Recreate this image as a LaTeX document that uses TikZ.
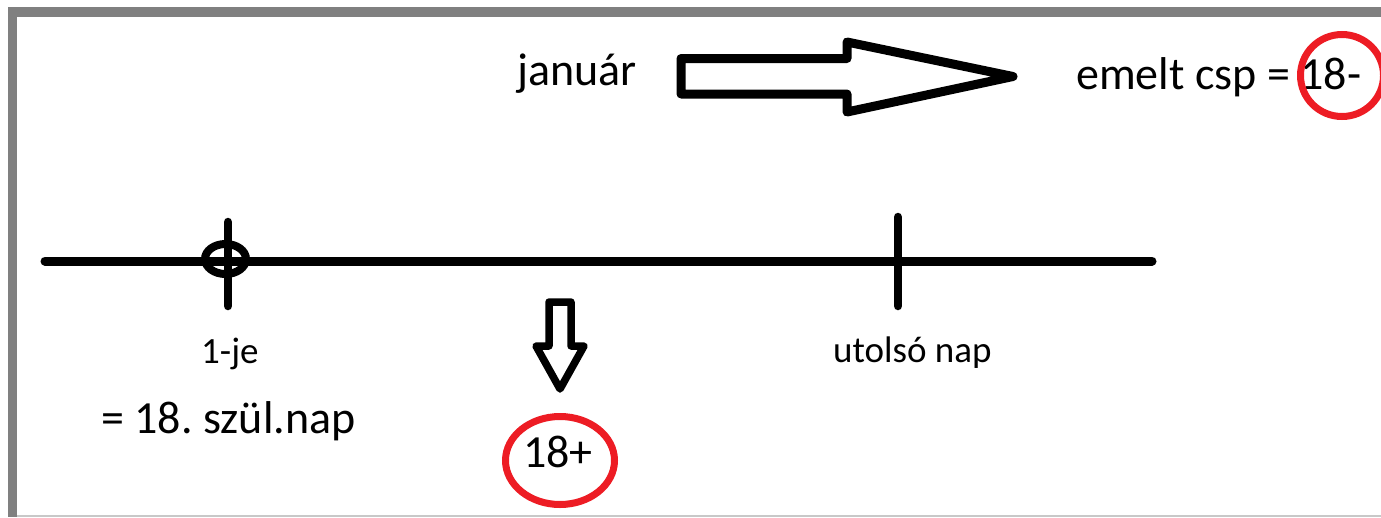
\documentclass[tikz,border=0pt]{standalone}
\usepackage{fontspec}
\setmainfont{Carlito}
\frenchspacing
\tikzset{
  bigtext/.style={inner sep=0pt, anchor=base west, font=\fontsize{46}{50}\selectfont},
  smalltext/.style={inner sep=0pt, anchor=base west, font=\fontsize{37}{40}\selectfont},
  blackline/.style={line width=9pt, line cap=round},
  outlinearrow/.style={draw=black, fill=white, line join=round},
  redring/.style={draw={rgb,255:red,237;green,28;blue,36}, line width=7pt},
  framegray/.style={draw={rgb,255:red,128;green,128;blue,128}, line width=9.5pt},
}
\begin{document}
\begin{tikzpicture}[x=1pt,y=-1pt]
\useasboundingbox (0,0) rectangle (1381,517);
% frame
\draw[draw={rgb,255:red,200;green,200;blue,200}, line width=2pt] (8,515.5) -- (1381,515.5);
\draw[framegray] (8,12) -- (1381,12);
\draw[framegray] (12.5,7.5) -- (12.5,517);

% top row
\node[bigtext] (jan) at (517,85) {január};
\draw[outlinearrow, line width=9pt] (681,58.5) -- (847,58.5) -- (847,42) -- (1013,76.5) -- (847,112) -- (847,94) -- (681,94) -- cycle;
\node[bigtext] (emelt) at (1076,89) {emelt csp = 18-};
\draw[redring] (1342,75.5) ellipse [x radius=41.5, y radius=41];

% number line
\coordinate (L) at (45,261);
\coordinate (R) at (1152,261);
\draw[blackline] (L) -- (R);
\coordinate (t1a) at (228,222);
\coordinate (t1b) at (228,306);
\draw[line width=8.5pt, line cap=round] (t1a) -- (t1b);
\draw[line width=8pt] (225.5,259) ellipse [x radius=20.5, y radius=15];
\coordinate (t2a) at (898,217);
\coordinate (t2b) at (898,306);
\draw[line width=8.5pt, line cap=round] (t2a) -- (t2b);

\node[smalltext] (first) at (201,363) {1-je};
\node[smalltext] (last) at (833,362) {utolsó nap};
\node[bigtext] (szul) at (101,433) {= 18. szül.nap};

% down arrow
\draw[outlinearrow, line width=7.5pt] (549,302) -- (571,302) -- (571,346) -- (584,346) -- (560,389) -- (536,346) -- (549,346) -- cycle;
\node[bigtext] (plus) at (523,467) {18+};
\draw[redring] (560,460.5) ellipse [x radius=54.5, y radius=44];
\end{tikzpicture}
\end{document}
